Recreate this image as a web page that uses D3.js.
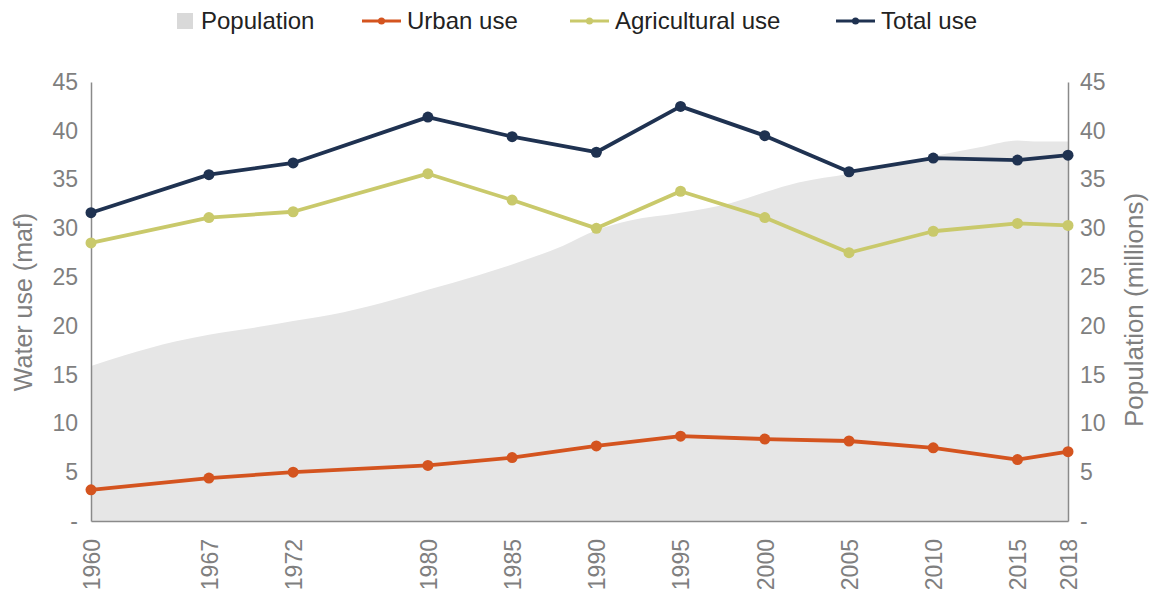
<!DOCTYPE html>
<html>
<head>
<meta charset="utf-8">
<script src="https://cdn.jsdelivr.net/npm/d3@7"></script>
<style>
  body { margin: 0; background: #fff; }
  svg text { font-family: "Liberation Sans", Arial, sans-serif; }
</style>
</head>
<body>
<svg id="chart" width="1151" height="594"></svg>
<script>
// DATA
const years = [1960, 1967, 1972, 1980, 1985, 1990, 1995, 2000, 2005, 2010, 2015, 2018]
const totalUse = [31.6, 35.5, 36.7, 41.4, 39.4, 37.8, 42.5, 39.5, 35.8, 37.2, 37.0, 37.5]
const agUse = [28.5, 31.1, 31.7, 35.6, 32.9, 30.0, 33.8, 31.1, 27.5, 29.7, 30.5, 30.3]
const urbanUse = [3.2, 4.4, 5.0, 5.7, 6.5, 7.7, 8.7, 8.4, 8.2, 7.5, 6.3, 7.1]
const popYears = [1960, 1962, 1965, 1967, 1970, 1972, 1975, 1978, 1980, 1983, 1985, 1988, 1990, 1992, 1995, 1998, 2000, 2002, 2005, 2008, 2010, 2013, 2015, 2016, 2018]
const population = [15.9, 17.0, 18.4, 19.1, 19.9, 20.5, 21.4, 22.7, 23.7, 25.2, 26.3, 28.2, 29.8, 30.8, 31.6, 32.6, 33.7, 34.7, 35.6, 36.7, 37.4, 38.4, 39.0, 38.9, 38.9]
const yTicks = [0, 5, 10, 15, 20, 25, 30, 35, 40, 45]

const margin = {top: 82, right: 83, bottom: 73, left: 91}
const width = 1151 - margin.left - margin.right
const height = 594 - margin.top - margin.bottom

const svg = d3.select('#chart')
const g = svg.append('g')
    .attr('transform', 'translate(' + margin.left + ',' + margin.top + ')')

// SCALES
const x = d3.scaleLinear().domain([1960, 2018]).range([0, width])
const y = d3.scaleLinear().domain([0, 45]).range([height, 0])
const y2 = d3.scaleLinear().domain([0, 45]).range([height, 0])

// POPULATION AREA
const popData = popYears.map((yr, i) => ({year: yr, value: population[i]}))
g.append('path')
    .datum(popData)
    .attr('fill', '#e6e6e6')
    .attr('d', d3.area()
        .x(d => x(d.year))
        .y0(height)
        .y1(d => y2(d.value))
        .curve(d3.curveMonotoneX))

// AXES
const tickFmt = d => d === 0 ? '-' : d
const left = g.append('g')
    .call(d3.axisLeft(y).tickValues(yTicks).tickSize(0).tickPadding(13).tickFormat(tickFmt))
const right = g.append('g')
    .attr('transform', 'translate(' + width + ',0)')
    .call(d3.axisRight(y2).tickValues(yTicks).tickSize(0).tickPadding(12).tickFormat(tickFmt))
const bottom = g.append('g')
    .attr('transform', 'translate(0,' + height + ')')
    .call(d3.axisBottom(x).tickValues(years).tickSize(0).tickFormat(d3.format('d')))

;[left, right, bottom].forEach(ax => {
    ax.select('.domain').attr('stroke', '#8a8a8a').attr('stroke-width', 1.5)
    ax.selectAll('text').attr('fill', '#7f7f7f').attr('font-size', '23px')
})
bottom.selectAll('text')
    .attr('transform', 'rotate(-90)')
    .attr('text-anchor', 'end')
    .attr('x', -18)
    .attr('y', 0)
    .attr('dy', '0.36em')

// AXIS TITLES
g.append('text')
    .attr('transform', 'rotate(-90)')
    .attr('x', -(302 - margin.top))
    .attr('y', 23 - margin.left)
    .attr('dy', '0.35em')
    .attr('text-anchor', 'middle')
    .attr('font-size', '25px')
    .attr('fill', '#7f7f7f')
    .text('Water use (maf)')
g.append('text')
    .attr('transform', 'rotate(-90)')
    .attr('x', -(310 - margin.top))
    .attr('y', 1134 - margin.left)
    .attr('dy', '0.35em')
    .attr('text-anchor', 'middle')
    .attr('font-size', '26px')
    .attr('fill', '#7f7f7f')
    .text('Population (millions)')

// LINES
const series = [
    {name: 'Urban use', values: urbanUse, color: '#d4541f'},
    {name: 'Agricultural use', values: agUse, color: '#c9c96b'},
    {name: 'Total use', values: totalUse, color: '#1f3251'}
]
const line = d3.line().x(d => x(d.year)).y(d => y(d.value))

series.forEach(s => {
    const pts = years.map((yr, i) => ({year: yr, value: s.values[i]}))
    g.append('path')
        .datum(pts)
        .attr('fill', 'none')
        .attr('stroke', s.color)
        .attr('stroke-width', 3.8)
        .attr('stroke-linejoin', 'round')
        .attr('d', line)
    g.selectAll(null)
        .data(pts)
        .enter()
        .append('circle')
        .attr('cx', d => x(d.year))
        .attr('cy', d => y(d.value))
        .attr('r', 5.5)
        .attr('fill', s.color)
})

// LEGEND
const legend = svg.append('g').attr('transform', 'translate(0,21)')
legend.append('rect')
    .attr('x', 177).attr('y', -8).attr('width', 16).attr('height', 16)
    .attr('fill', '#d9d9d9')
legend.append('text')
    .attr('x', 201).attr('y', 0).attr('dy', '0.35em')
    .attr('font-family', 'Lato, sans-serif')
    .attr('font-size', '24px').attr('fill', '#222')
    .text('Population')
const legendX = [362, 570, 836]
series.forEach((s, i) => {
    const lg = legend.append('g').attr('transform', 'translate(' + legendX[i] + ',0)')
    lg.append('line')
        .attr('x1', 0).attr('x2', 39).attr('y1', 0).attr('y2', 0)
        .attr('stroke', s.color).attr('stroke-width', 3)
    lg.append('circle').attr('cx', 19.5).attr('cy', 0).attr('r', 3.5).attr('fill', s.color)
    lg.append('text')
        .attr('x', 45).attr('y', 0).attr('dy', '0.35em')
        .attr('font-family', 'Lato, sans-serif')
        .attr('font-size', '24px').attr('fill', '#222')
        .text(s.name)
})
</script>
</body>
</html>
